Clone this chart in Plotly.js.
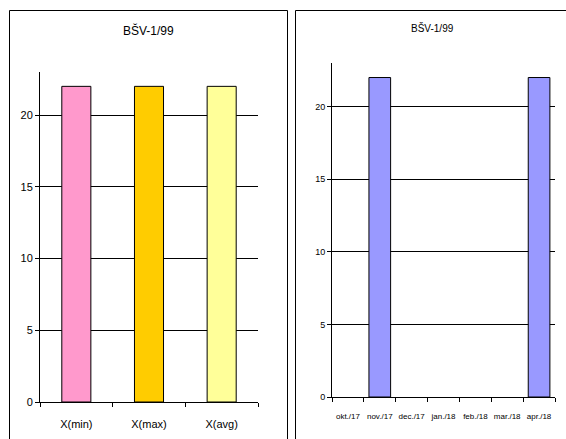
<!DOCTYPE html>
<html><head><meta charset="utf-8">
<script src="https://cdn.plot.ly/plotly-3.0.1.min.js"></script>
<style>html,body{margin:0;padding:0;background:#fff;}#chart{width:566px;height:439px;}</style>
</head><body><div id="chart"></div>
<script>
const titleText = "BŠV-1/99";
const leftCategories = ["X(min)", "X(max)", "X(avg)"];
const leftValues = [22, 22, 22];
const leftColors = ["#FF99CC", "#FFCC00", "#FFFF99"];
const rightCategories = ["okt./17", "nov./17", "dec./17", "jan./18", "feb./18", "mar./18", "apr./18"];
const rightValues = [null, 22, null, null, null, null, 22];
const rightColor = "#9999FF";
const yTicks = [0, 5, 10, 15, 20];

const W = 566, H = 439;
const px = x => x / W;
const py = y => 1 - y / H;

const traces = [
  {type: "bar", x: leftCategories, y: leftValues, xaxis: "x", yaxis: "y",
   marker: {color: leftColors, line: {color: "#000", width: 1}}, width: 0.4, hoverinfo: "x+y"},
  {type: "bar", x: rightCategories, y: rightValues, xaxis: "x2", yaxis: "y2",
   marker: {color: rightColor, line: {color: "#000", width: 1}}, width: 0.68, hoverinfo: "x+y"}
];

const axisCommon = {showline: true, linecolor: "#000", linewidth: 1, ticks: "outside", ticklen: 4, tickcolor: "#000", fixedrange: true};

const layout = {
  width: W, height: H, margin: {l: 0, r: 0, t: 0, b: 0},
  paper_bgcolor: "#fff", plot_bgcolor: "#fff", showlegend: false, bargap: 0,
  font: {family: "Liberation Sans, Arial, sans-serif", color: "#000"},
  xaxis: Object.assign({}, axisCommon, {domain: [px(40), px(258)], anchor: "y", tickson: "boundaries",
    showgrid: false, tickfont: {size: 11}, ticklabelstandoff: 12, tickangle: 0}),
  yaxis: Object.assign({}, axisCommon, {domain: [py(402), py(72)], anchor: "x", range: [0, 23],
    tickvals: yTicks, showgrid: true, gridcolor: "#000", gridwidth: 1, zeroline: false, tickfont: {size: 11}}),
  xaxis2: Object.assign({}, axisCommon, {domain: [px(332), px(555)], anchor: "y2", tickson: "boundaries",
    showgrid: false, tickfont: {size: 8}, ticklabelstandoff: 11, tickangle: 0}),
  yaxis2: Object.assign({}, axisCommon, {domain: [py(397), py(63)], anchor: "x2", range: [0, 23],
    tickvals: yTicks, showgrid: true, gridcolor: "#000", gridwidth: 1, zeroline: false,
    tickfont: {size: 9}}),
  shapes: [
    {type: "rect", xref: "paper", yref: "paper", x0: px(9.5), x1: px(287.5), y0: py(445), y1: py(10.5), line: {color: "#000", width: 1}},
    {type: "rect", xref: "paper", yref: "paper", x0: px(295.5), x1: px(575), y0: py(445), y1: py(10.5), line: {color: "#000", width: 1}}
  ],
  annotations: [
    {text: titleText, xref: "paper", yref: "paper", x: px(148), y: py(30), showarrow: false, xanchor: "center", yanchor: "middle", font: {size: 12}},
    {text: titleText, xref: "paper", yref: "paper", x: px(432), y: py(28), showarrow: false, xanchor: "center", yanchor: "middle",
     font: {size: 10}}
  ]
};

Plotly.newPlot("chart", traces, layout, {displayModeBar: false, staticPlot: true});
</script></body></html>
